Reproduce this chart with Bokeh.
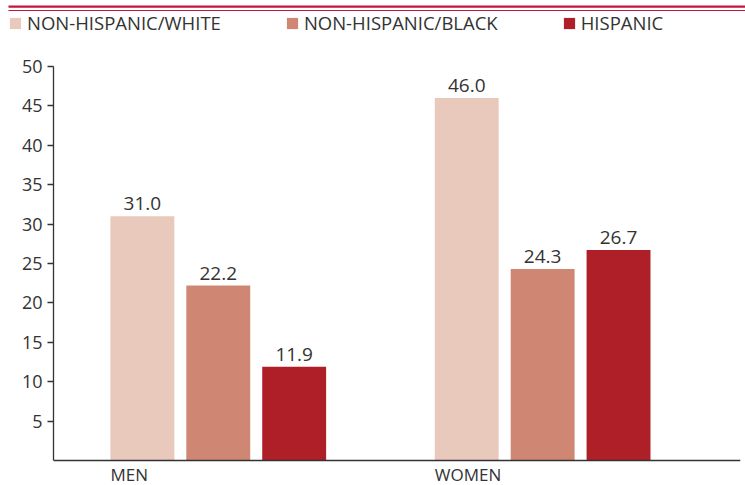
from bokeh.plotting import figure
from bokeh.layouts import column
from bokeh.models import (Range1d, FixedTicker, Legend, LegendItem, BoxAnnotation, Span)
from bokeh.core.properties import value
from bokeh.embed import file_html
from bokeh.resources import INLINE

# ---- data ----
categories = ["MEN", "WOMEN"]
series = ["NON-HISPANIC/WHITE", "NON-HISPANIC/BLACK", "HISPANIC"]
white = [31.0, 46.0]
black = [22.2, 24.3]
hispanic = [11.9, 26.7]
y_ticks = [5, 10, 15, 20, 25, 30, 35, 40, 45, 50]

# ---- style ----
colors = ["#e9c9bc", "#cf8774", "#af1f27"]
RED = "#c4143c"
TXT = "#333333"
FONT = "Open Sans"
BAR_W = 0.197
STEP = 0.234
values_by_series = [white, black, hispanic]

# ---------- header: rules + legend ----------
head = figure(width=745, height=45, output_backend="svg", toolbar_location=None,
              x_range=Range1d(0, 745), y_range=Range1d(45, 0),
              x_axis_location=None, y_axis_location=None,
              min_border_left=0, min_border_right=0, min_border_top=0, min_border_bottom=0)
head.frame_align = False
head.outline_line_color = None
head.xgrid.visible = False
head.ygrid.visible = False
for top, bottom in [(5.0, 7.3), (9.4, 10.5)]:
    head.add_layout(BoxAnnotation(left=8, right=745, top=top, bottom=bottom,
                                  fill_color=RED, fill_alpha=1, line_color=None))
items = []
for name, vals, col in zip(series, values_by_series, colors):
    # zero-width proxy glyphs: they only supply the legend swatches
    r = head.vbar(x=list(range(len(vals))), top=vals, width=0, fill_color=col, line_color=None)
    items.append(LegendItem(label=name, renderers=[r]))
legend = Legend(items=items, orientation="horizontal", location=(8, 10),
                spacing=64, glyph_width=14, glyph_height=14, label_standoff=5,
                padding=0, margin=0, border_line_color=None, background_fill_alpha=0,
                label_text_font=FONT, label_text_font_size="18.5px", label_text_color=TXT,
                label_height=14)
head.add_layout(legend)

# ---------- main chart ----------
p = figure(width=745, height=440, output_backend="svg", toolbar_location=None,
           x_range=Range1d(-0.508, 1.610), y_range=Range1d(-3.17, 50),
           x_axis_location=None,
           min_border_left=53, min_border_right=5, min_border_top=21, min_border_bottom=0)
p.frame_align = False
p.outline_line_color = None
p.xgrid.visible = False
p.ygrid.visible = False

for j, (name, vals, col) in enumerate(zip(series, values_by_series, colors)):
    xs = [i + (j - 1) * STEP for i in range(len(categories))]
    p.vbar(x=xs, top=vals, bottom=0, width=BAR_W, fill_color=col, line_color=None)
    p.text(x=xs, y=vals, text=[f"{v:.1f}" for v in vals], text_align="center",
           text_baseline="bottom", y_offset=-6, text_font=value(FONT),
           text_font_size="19px", text_color=TXT)

# baseline (x axis line)
p.add_layout(Span(location=0, dimension="width", line_color=TXT, line_width=1.3))

# category labels, left-aligned with the first bar of each group
p.text(x=[i - STEP - BAR_W / 2 for i in range(len(categories))], y=[0] * len(categories),
       text=categories, text_align="left", text_baseline="top", y_offset=2,
       text_font=value(FONT), text_font_size="17px", text_color=TXT)

# y axis
p.yaxis.bounds = (0, 50)
p.yaxis.ticker = FixedTicker(ticks=y_ticks)
p.yaxis.major_tick_out = 6
p.yaxis.major_tick_in = 0
p.yaxis.minor_tick_line_color = None
p.yaxis.axis_line_color = TXT
p.yaxis.axis_line_width = 1.3
p.yaxis.major_tick_line_color = TXT
p.yaxis.major_tick_line_width = 1.3
p.yaxis.major_label_text_font = FONT
p.yaxis.major_label_text_font_size = "18px"
p.yaxis.major_label_text_color = TXT
p.yaxis.major_label_standoff = 5

layout = column(head, p, spacing=0)
open("out.html", "w").write(file_html(layout, INLINE))
